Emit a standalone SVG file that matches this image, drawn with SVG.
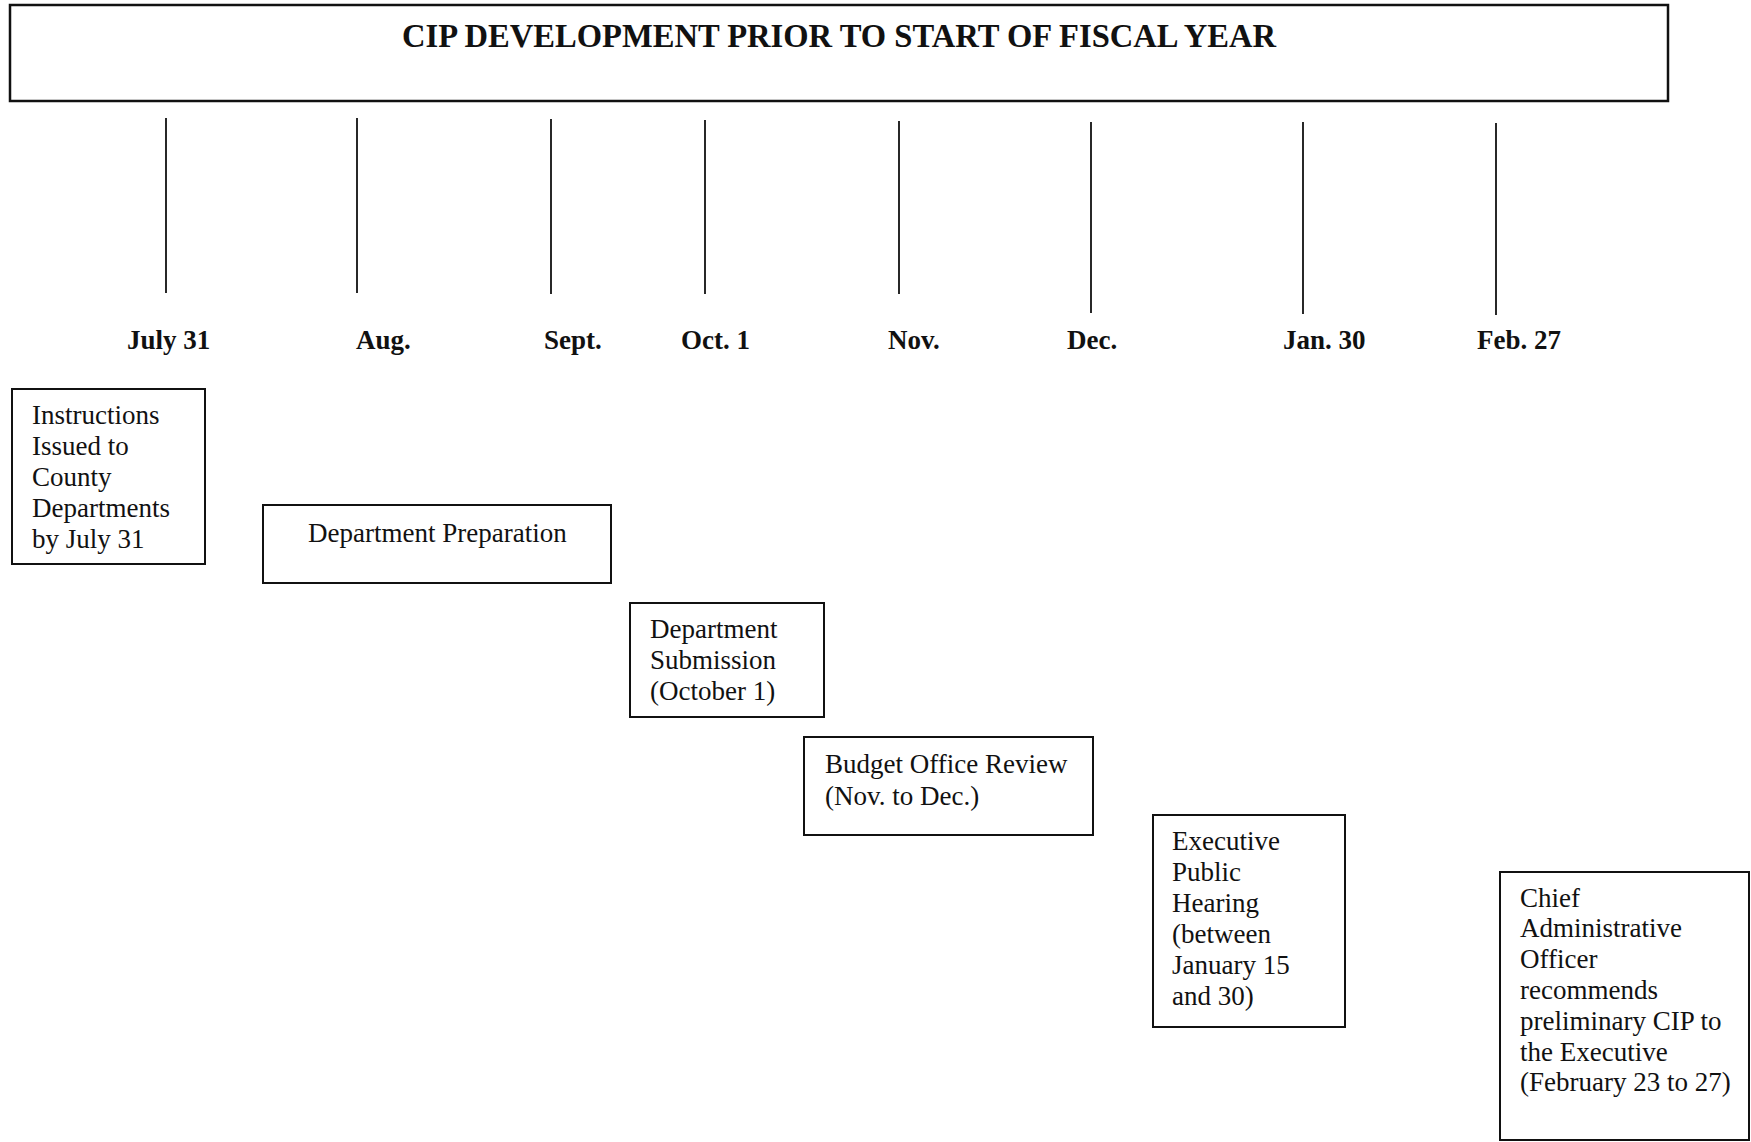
<svg xmlns="http://www.w3.org/2000/svg" width="1751" height="1142" viewBox="0 0 1751 1142">
<style>
  .box { fill: #fff; stroke: #111; stroke-width: 2; }
  .title-box { fill: #fff; stroke: #111; stroke-width: 2.5; }
  .tick { stroke: #111; stroke-width: 1.8; }
  .title { font-family: "Liberation Serif", "Times New Roman", serif; font-weight: bold; font-size: 33px; fill: #111; }
  .month { font-family: "Liberation Serif", "Times New Roman", serif; font-weight: bold; font-size: 27px; fill: #111; }
  .txt { font-family: "Liberation Serif", "Times New Roman", serif; font-size: 27px; fill: #111; }
</style>
<rect width="1751" height="1142" fill="#fff"/>

<g id="title">
  <rect class="title-box" x="10" y="5" width="1658" height="96"/>
  <text class="title" x="839" y="47" text-anchor="middle" textLength="874" lengthAdjust="spacingAndGlyphs">CIP DEVELOPMENT PRIOR TO START OF FISCAL YEAR</text>
</g>

<g id="ticks">
  <line class="tick" x1="166" y1="118" x2="166" y2="293"/>
  <line class="tick" x1="357" y1="118" x2="357" y2="293"/>
  <line class="tick" x1="551" y1="119" x2="551" y2="294"/>
  <line class="tick" x1="705" y1="120" x2="705" y2="294"/>
  <line class="tick" x1="899" y1="121" x2="899" y2="294"/>
  <line class="tick" x1="1091" y1="122" x2="1091" y2="313"/>
  <line class="tick" x1="1303" y1="122" x2="1303" y2="314"/>
  <line class="tick" x1="1496" y1="123" x2="1496" y2="315"/>
</g>

<g id="month-labels">
  <text class="month" x="127" y="349">July 31</text>
  <text class="month" x="356" y="349">Aug.</text>
  <text class="month" x="544" y="349">Sept.</text>
  <text class="month" x="681" y="349">Oct. 1</text>
  <text class="month" x="888" y="349">Nov.</text>
  <text class="month" x="1067" y="349">Dec.</text>
  <text class="month" x="1283" y="349">Jan. 30</text>
  <text class="month" x="1477" y="349">Feb. 27</text>
</g>

<g id="instructions">
  <rect class="box" x="12" y="389" width="193" height="175"/>
  <text class="txt" x="32" y="424">Instructions</text>
  <text class="txt" x="32" y="455">Issued to</text>
  <text class="txt" x="32" y="486">County</text>
  <text class="txt" x="32" y="517">Departments</text>
  <text class="txt" x="32" y="548">by July 31</text>
</g>

<g id="department-preparation">
  <rect class="box" x="263" y="505" width="348" height="78"/>
  <text class="txt" x="308" y="542">Department Preparation</text>
</g>

<g id="department-submission">
  <rect class="box" x="630" y="603" width="194" height="114"/>
  <text class="txt" x="650" y="638">Department</text>
  <text class="txt" x="650" y="669">Submission</text>
  <text class="txt" x="650" y="700">(October 1)</text>
</g>

<g id="budget-office-review">
  <rect class="box" x="804" y="737" width="289" height="98"/>
  <text class="txt" x="825" y="773">Budget Office Review</text>
  <text class="txt" x="825" y="805">(Nov. to Dec.)</text>
</g>

<g id="executive-public-hearing">
  <rect class="box" x="1153" y="815" width="192" height="212"/>
  <text class="txt" x="1172" y="850">Executive</text>
  <text class="txt" x="1172" y="881">Public</text>
  <text class="txt" x="1172" y="912">Hearing</text>
  <text class="txt" x="1172" y="943">(between</text>
  <text class="txt" x="1172" y="974">January 15</text>
  <text class="txt" x="1172" y="1005">and 30)</text>
</g>

<g id="cao-recommends">
  <rect class="box" x="1500" y="872" width="249" height="268"/>
  <text class="txt" x="1520" y="907">Chief</text>
  <text class="txt" x="1520" y="937">Administrative</text>
  <text class="txt" x="1520" y="968">Officer</text>
  <text class="txt" x="1520" y="999">recommends</text>
  <text class="txt" x="1520" y="1030">preliminary CIP to</text>
  <text class="txt" x="1520" y="1061">the Executive</text>
  <text class="txt" x="1520" y="1091">(February 23 to 27)</text>
</g>
</svg>
